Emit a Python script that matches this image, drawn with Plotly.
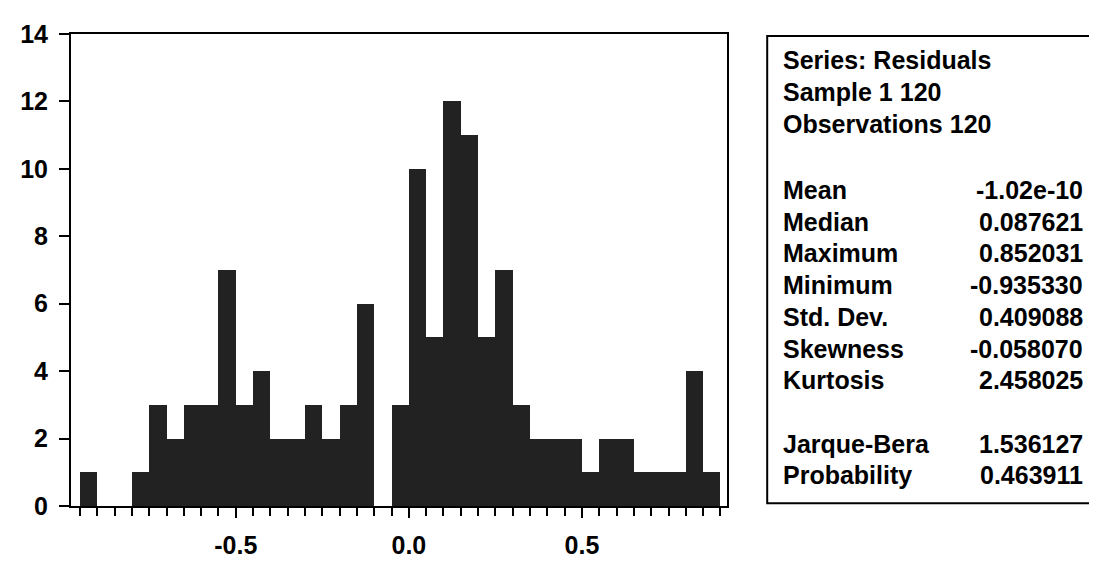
import plotly.graph_objects as go

# ---- data ----
bin_centers = [-0.925, -0.875, -0.825, -0.775, -0.725, -0.675, -0.625, -0.575,
               -0.525, -0.475, -0.425, -0.375, -0.325, -0.275, -0.225, -0.175,
               -0.125, -0.075, -0.025, 0.025, 0.075, 0.125, 0.175, 0.225,
               0.275, 0.325, 0.375, 0.425, 0.475, 0.525, 0.575, 0.625,
               0.675, 0.725, 0.775, 0.825, 0.875]
counts = [1, 0, 0, 1, 3, 2, 3, 3,
          7, 3, 4, 2, 2, 3, 2, 3,
          6, 0, 3, 10, 5, 12, 11, 5,
          7, 3, 2, 2, 2, 1, 2, 2,
          1, 1, 1, 4, 1]
bin_width = 0.05

x_tick_values = [-0.5, 0.0, 0.5]
x_tick_labels = ["-0.5", "0.0", "0.5"]
y_tick_values = [0, 2, 4, 6, 8, 10, 12, 14]

header_lines = ["Series: Residuals", "Sample 1 120", "Observations 120"]
stat_names = ["Mean", "Median", "Maximum", "Minimum", "Std. Dev.", "Skewness",
              "Kurtosis", "", "Jarque-Bera", "Probability"]
stat_values = ["-1.02e-10", "0.087621", "0.852031", "-0.935330", "0.409088",
               "-0.058070", "2.458025", "", "1.536127", "0.463911"]

# ---- layout geometry (screen pixels; page body has an 8px margin) ----
OFF = 8
W, H = 1097 - OFF, 571 - OFF
L, T = 58 - OFF, 27 - OFF
PLOT_RIGHT, PLOT_BOTTOM = 727 - OFF, 526 - OFF
R, B = W - PLOT_RIGHT, H - PLOT_BOTTOM
PW, PH = PLOT_RIGHT - L, PLOT_BOTTOM - T


def px_x(sx):
    return (sx - OFF - L) / PW


def px_y(sy):
    return (PLOT_BOTTOM - (sy - OFF)) / PH


FONT = "Liberation Sans, Arial, sans-serif"
tick_font = dict(size=25, family=FONT, color="black", weight="bold")

fig = go.Figure()
fig.add_trace(go.Bar(
    x=bin_centers, y=counts, width=bin_width,
    marker=dict(color="#222222", line=dict(width=0)),
    showlegend=False, hoverinfo="x+y",
))

fig.update_layout(
    width=W, height=H,
    margin=dict(l=L, r=R, t=T, b=B, pad=0),
    paper_bgcolor="white", plot_bgcolor="white",
    bargap=0,
    font=dict(family=FONT, color="black"),
    xaxis=dict(
        range=[-0.976, 0.919],
        tickmode="array", tickvals=x_tick_values, ticktext=x_tick_labels,
        ticks="outside", ticklen=10, tickwidth=1.5, tickcolor="black",
        showline=True, linewidth=2, linecolor="black", mirror=True,
        showgrid=False, zeroline=False,
        tickfont=tick_font,
        ticklabelstandoff=6,
        minor=dict(dtick=0.05, tick0=0, ticks="outside", ticklen=8,
                   tickwidth=1.5, tickcolor="black", showgrid=False),
    ),
    yaxis=dict(
        range=[0, 14], tickmode="array", tickvals=y_tick_values,
        ticks="outside", ticklen=10, tickwidth=1.5, tickcolor="black",
        showline=True, linewidth=2, linecolor="black", mirror=True,
        showgrid=False, zeroline=False,
        tickfont=tick_font,
        ticklabelstandoff=6,
    ),
)

# statistics box
fig.add_shape(type="rect", xref="paper", yref="paper",
              x0=px_x(768), x1=px_x(1120), y0=px_y(523), y1=px_y(29),
              line=dict(color="black", width=2), fillcolor="rgba(0,0,0,0)")

text_font = dict(family=FONT, size=25, color="black", weight="bold")
row_y = [55, 88.5, 122]
for label, sy in zip(header_lines, row_y):
    fig.add_annotation(x=px_x(782), y=px_y(sy), xref="paper", yref="paper",
                       text=label, showarrow=False, xanchor="left",
                       yanchor="middle", font=text_font)

sy = 192
for name, val in zip(stat_names, stat_values):
    if name:
        fig.add_annotation(x=px_x(782), y=px_y(sy), xref="paper", yref="paper",
                           text=name, showarrow=False, xanchor="left",
                           yanchor="middle", font=text_font)
        fig.add_annotation(x=px_x(1092), y=px_y(sy), xref="paper", yref="paper",
                           text=val, showarrow=False, xanchor="right",
                           yanchor="middle", font=text_font)
    sy += 33.5

fig.write_html("out.html")
